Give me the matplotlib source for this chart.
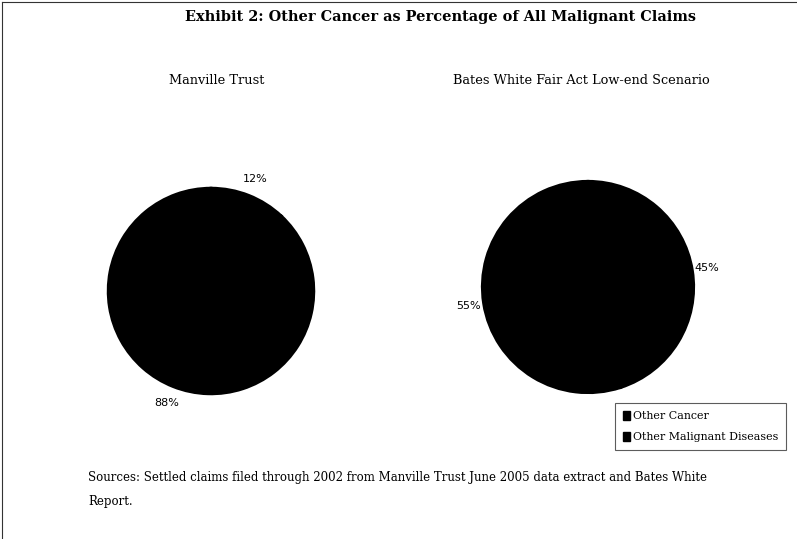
import matplotlib
matplotlib.use("Agg")
from matplotlib import pyplot as plt
from matplotlib.lines import Line2D

categories = ["Other Cancer", "Other Malignant Diseases"]
manville_values = [12, 88]
bates_values = [45, 55]
pie_titles = ["Manville Trust", "Bates White Fair Act Low-end Scenario"]
slice_colors = ["#000000", "#000000"]

W, H = 797, 539
serif = "DejaVu Serif"


def px_axes(fig, cx, cy, r):
    # axes box in pixel terms, cy measured from top
    return fig.add_axes([(cx - r) / W, (H - cy - r) / H, 2 * r / W, 2 * r / H])


def draw_pie(ax, values, dist):
    ax.pie(values, colors=slice_colors, startangle=90, counterclock=False,
           autopct=lambda p: "%d%%" % round(p), pctdistance=dist,
           wedgeprops=dict(edgecolor="black", linewidth=2),
           textprops=dict(color="black", fontsize=8, family="DejaVu Sans"))
    ax.set_xlim(-1.05, 1.05)
    ax.set_ylim(-1.05, 1.05)
    ax.set_aspect("equal")
    ax.axis("off")


def main():
    fig = plt.figure(figsize=(W / 100, H / 100), dpi=100)

    # frame lines on top and left
    fig.add_artist(Line2D([2 / W, 2 / W], [0, 1 - 2 / H], color="#333333", lw=0.8))
    fig.add_artist(Line2D([2 / W, 1], [1 - 2 / H, 1 - 2 / H], color="#333333", lw=0.8))

    fig.text(441 / W, 1 - 17 / H, "Exhibit 2: Other Cancer as Percentage of All Malignant Claims",
             ha="center", va="center", fontsize=10.45, fontweight="bold", family=serif)
    fig.text(217 / W, 1 - 80 / H, pie_titles[0], ha="center", va="center",
             fontsize=9.3, family=serif)
    fig.text(581 / W, 1 - 80 / H, pie_titles[1], ha="center", va="center",
             fontsize=9.3, family=serif)

    ax1 = px_axes(fig, 211, 291, 108)
    draw_pie(ax1, manville_values, 1.17)
    ax2 = px_axes(fig, 588, 287, 111)
    draw_pie(ax2, bates_values, 1.14)

    handles = [plt.Rectangle((0, 0), 1, 1, color=c) for c in slice_colors]
    leg = fig.legend(handles, categories, loc="upper left",
                     bbox_to_anchor=(615 / W, 1 - 403 / H),
                     prop=dict(family=serif, size=7.9), frameon=True, fancybox=False,
                     edgecolor="#333333", handlelength=0.7, handleheight=0.9,
                     handletextpad=0.2, borderpad=0.7, labelspacing=1.0,
                     borderaxespad=0)
    leg.get_frame().set_linewidth(0.8)

    fig.text(88 / W, 1 - 478 / H,
             "Sources: Settled claims filed through 2002 from Manville Trust June 2005 data extract and Bates White",
             ha="left", va="center", fontsize=8.5, family=serif)
    fig.text(88 / W, 1 - 502 / H, "Report.", ha="left", va="center",
             fontsize=8.5, family=serif)

    plt.savefig("out.png", dpi=100)


if __name__ == "__main__":
    main()
